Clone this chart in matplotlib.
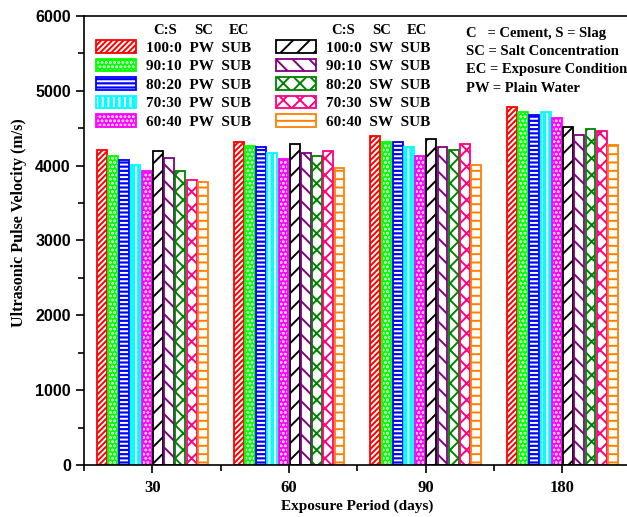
import numpy as np
import matplotlib
matplotlib.use("Agg")
import matplotlib.pyplot as plt
from matplotlib.patches import Patch
from matplotlib.legend_handler import HandlerTuple

plt.rcParams["hatch.linewidth"] = 1.4

# exposure periods (days)
periods = ["30", "60", "90", "180"]

# ultrasonic pulse velocity (m/s), one list per mix
pw_100_0 = [4210, 4320, 4400, 4790]
pw_90_10 = [4125, 4265, 4320, 4720]
pw_80_20 = [4075, 4255, 4315, 4680]
pw_70_30 = [4005, 4165, 4245, 4720]
pw_60_40 = [3935, 4085, 4130, 4635]
sw_100_0 = [4200, 4290, 4350, 4510]
sw_90_10 = [4100, 4175, 4245, 4415]
sw_80_20 = [3925, 4135, 4205, 4485]
sw_70_30 = [3810, 4200, 4290, 4460]
sw_60_40 = [3785, 3975, 4015, 4275]

ratios = ["100:0", "90:10", "80:20", "70:30", "60:40"]

series = [pw_100_0, pw_90_10, pw_80_20, pw_70_30, pw_60_40,
          sw_100_0, sw_90_10, sw_80_20, sw_70_30, sw_60_40]
colors = ["#ff0000", "#00ff00", "#0000ff", "#00ffff", "#ff00ff",
          "#000000", "#800080", "#008000", "#ff0080", "#ff8000"]
hatches = ["//////", "....", "----", "|||", "....",
           "//", "\\\\", "xx", "xx", "--"]
filled = [True] * 5 + [False] * 5

serif = "Liberation Serif"
sans = "Liberation Sans"

fig = plt.figure(figsize=(6.27, 5.17), dpi=100)
ax = fig.add_axes([0.134, 0.1006, 0.872, 0.8685])

x = np.arange(1, len(periods) + 1)
pitch = 0.082
width = 0.072
handles = []
for i, vals in enumerate(series):
    pos = x + (i - 4.5) * pitch
    c = colors[i]
    if filled[i]:
        ax.bar(pos, vals, width, color=c, edgecolor="white",
               hatch=hatches[i], linewidth=0)
        ax.bar(pos, vals, width, facecolor="none", edgecolor=c, linewidth=1.3)
        hp = (Patch(facecolor=c, edgecolor="white", hatch=hatches[i], linewidth=0),
              Patch(facecolor="none", edgecolor=c, linewidth=1.3))
    else:
        ax.bar(pos, vals, width, facecolor="white", edgecolor=c,
               hatch=hatches[i], linewidth=1.3)
        hp = (Patch(facecolor="white", edgecolor=c, hatch=hatches[i], linewidth=1.3),)
    handles.append(hp)

ax.set_xlim(0.5, 4.5)
ax.set_ylim(0, 6000)
ax.set_xticks(x)
ax.set_xticklabels(periods, fontfamily=serif, fontweight="bold", fontsize=12)
ax.set_xticks([0.5, 1.5, 2.5, 3.5], minor=True)
ax.set_yticks(np.arange(0, 6001, 1000))
ax.set_yticks(np.arange(500, 6000, 1000), minor=True)
for lab in ax.get_yticklabels():
    lab.set_fontfamily(sans)
    lab.set_fontweight("bold")
    lab.set_fontsize(11.5)
ax.tick_params(which="major", direction="out", length=6, width=1.2)
ax.tick_params(axis="x", which="major", pad=5)
ax.tick_params(which="minor", direction="out", length=4, width=1.2)
for s in ax.spines.values():
    s.set_linewidth(1.2)

ax.set_xlabel("Exposure Period (days)", fontfamily=serif, fontweight="bold",
              fontsize=11, labelpad=2)
ax.set_ylabel("Ultrasonic Pulse Velocity (m/s)", fontfamily=serif,
              fontweight="bold", fontsize=11.5)
ax.yaxis.set_label_coords(-0.104, 0.54)

legend_font = {"family": serif, "weight": "bold", "size": 11}
labels_pw = [f"{r}  PW  SUB" for r in ratios]
labels_sw = [f"{r}  SW  SUB" for r in ratios]
leg_kw = dict(prop=legend_font, frameon=False, handlelength=2.6,
              handleheight=0.9, labelspacing=0.26, handletextpad=0.7,
              borderpad=0, borderaxespad=0,
              handler_map={tuple: HandlerTuple(ndivide=1, pad=0)})
leg1 = ax.legend(handles[:5], labels_pw, loc="upper left",
                 bbox_to_anchor=(96 / 627, 1 - 40 / 517),
                 bbox_transform=fig.transFigure, **leg_kw)
ax.add_artist(leg1)
ax.legend(handles[5:], labels_sw, loc="upper left",
          bbox_to_anchor=(276 / 627, 1 - 40 / 517),
          bbox_transform=fig.transFigure, **leg_kw)

# column headers above the legends
for x0 in (165, 343):
    for dx, t in ((0, "C:S"), (39, "SC"), (74, "EC")):
        fig.text((x0 + dx) / 627, 1 - 31 / 517, t, ha="center", va="center",
                 fontfamily=serif, fontweight="bold", fontsize=10.5)

notes = ["C   = Cement, S = Slag", "SC = Salt Concentration",
         "EC = Exposure Condition", "PW = Plain Water"]
for k, t in enumerate(notes):
    fig.text(466 / 627, 1 - (33 + k * 18.5) / 517, t, ha="left", va="center",
             fontfamily=serif, fontweight="bold", fontsize=10.5)

fig.savefig("out.png", dpi=100)
